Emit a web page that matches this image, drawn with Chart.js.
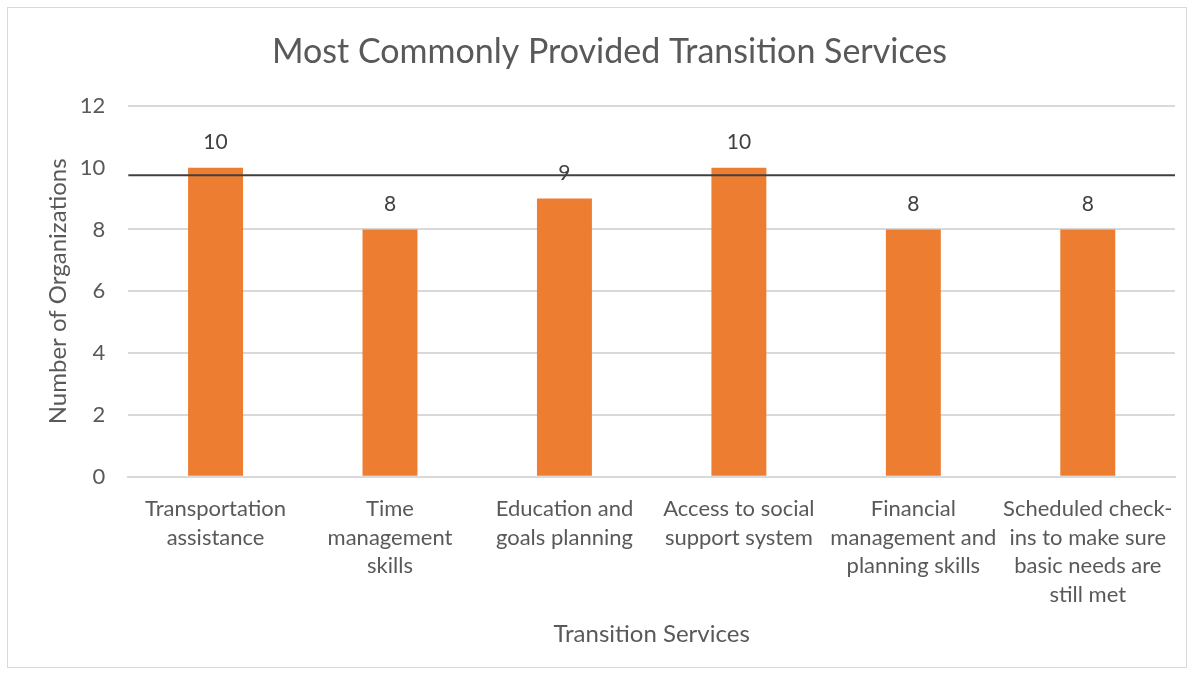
<!DOCTYPE html>
<html>
<head>
<meta charset="utf-8">
<script src="https://cdn.jsdelivr.net/npm/chart.js@4.4.1/dist/chart.umd.min.js"></script>
<style>
  body { margin: 0; background: #fff; }
  #wrap { position: absolute; left: 7px; top: 7px; width: 1180px; height: 661px; border: 1px solid #d9d9d9; box-sizing: border-box; }
</style>
</head>
<body>
<div id="wrap"><canvas id="services-chart"></canvas></div>
<script>
// Chart data
const categories = [
    ['Transportation', 'assistance'],
    ['Time', 'management', 'skills'],
    ['Education and', 'goals planning'],
    ['Access to social', 'support system'],
    ['Financial', 'management and', 'planning skills'],
    ['Scheduled check-', 'ins to make sure', 'basic needs are', 'still met']
];
const organizations = [10, 8, 9, 10, 8, 8];
const yTicks = [0, 2, 4, 6, 8, 10, 12];
const referenceLine = 9.75;

const FONT = 'Lato, "Open Sans", sans-serif';
const TEXT = '#595959';

// value labels above each bar
const barLabels = {
    id: 'barLabels',
    afterDatasetsDraw(chart) {
        const ctx = chart.ctx;
        const meta = chart.getDatasetMeta(0);
        ctx.save();
        ctx.font = '21px ' + FONT;
        ctx.fillStyle = '#404040';
        ctx.textAlign = 'center';
        ctx.textBaseline = 'middle';
        meta.data.forEach((bar, i) => {
            ctx.fillText(organizations[i], bar.x, bar.y - 25);
        });
        ctx.restore();
    }
};

// black horizontal line across the plot
const refLine = {
    id: 'refLine',
    afterDatasetsDraw(chart) {
        const ctx = chart.ctx;
        const y = chart.scales.y.getPixelForValue(referenceLine);
        ctx.save();
        ctx.strokeStyle = '#404040';
        ctx.lineWidth = 2;
        ctx.beginPath();
        ctx.moveTo(chart.chartArea.left, y);
        ctx.lineTo(chart.chartArea.right, y);
        ctx.stroke();
        ctx.restore();
    }
};

new Chart(document.getElementById('services-chart'), {
    type: 'bar',
    data: {
        labels: categories,
        datasets: [
            { data: organizations, backgroundColor: '#ED7D31', categoryPercentage: 1, barPercentage: 0.315 }
        ]
    },
    options: {
        responsive: true,
        maintainAspectRatio: false,
        animation: false,
        layout: { padding: { left: 36, right: 11, top: 0, bottom: 14 } },
        plugins: {
            legend: { display: false },
            tooltip: { enabled: false },
            title: {
                display: true,
                text: 'Most Commonly Provided Transition Services',
                color: TEXT,
                font: { family: FONT, size: 34, weight: 'normal' },
                padding: { top: 24, bottom: 33 }
            }
        },
        scales: {
            x: {
                grid: { display: false },
                border: { color: '#d9d9d9', width: 2 },
                ticks: {
                    color: TEXT,
                    font: { family: FONT, size: 22, lineHeight: 1.3 },
                    maxRotation: 0,
                    autoSkip: false,
                    padding: 10
                },
                title: {
                    display: true,
                    text: 'Transition Services',
                    color: TEXT,
                    font: { family: FONT, size: 24 },
                    padding: { top: 1 }
                }
            },
            y: {
                min: 0,
                max: 12,
                afterBuildTicks(axis) { axis.ticks = yTicks.map(v => ({ value: v })); },
                grid: {
                    color: ctx => (ctx.tick && ctx.tick.value === 10) ? 'rgba(0,0,0,0)' : '#d9d9d9',
                    lineWidth: 2,
                    drawTicks: false
                },
                border: { display: false },
                ticks: {
                    color: TEXT,
                    font: { family: FONT, size: 22 },
                    padding: 23
                },
                title: {
                    display: true,
                    text: 'Number of Organizations',
                    color: TEXT,
                    font: { family: FONT, size: 24 },
                    padding: { top: 0, bottom: -16 }
                }
            }
        }
    },
    plugins: [barLabels, refLine]
});
</script>
</body>
</html>
